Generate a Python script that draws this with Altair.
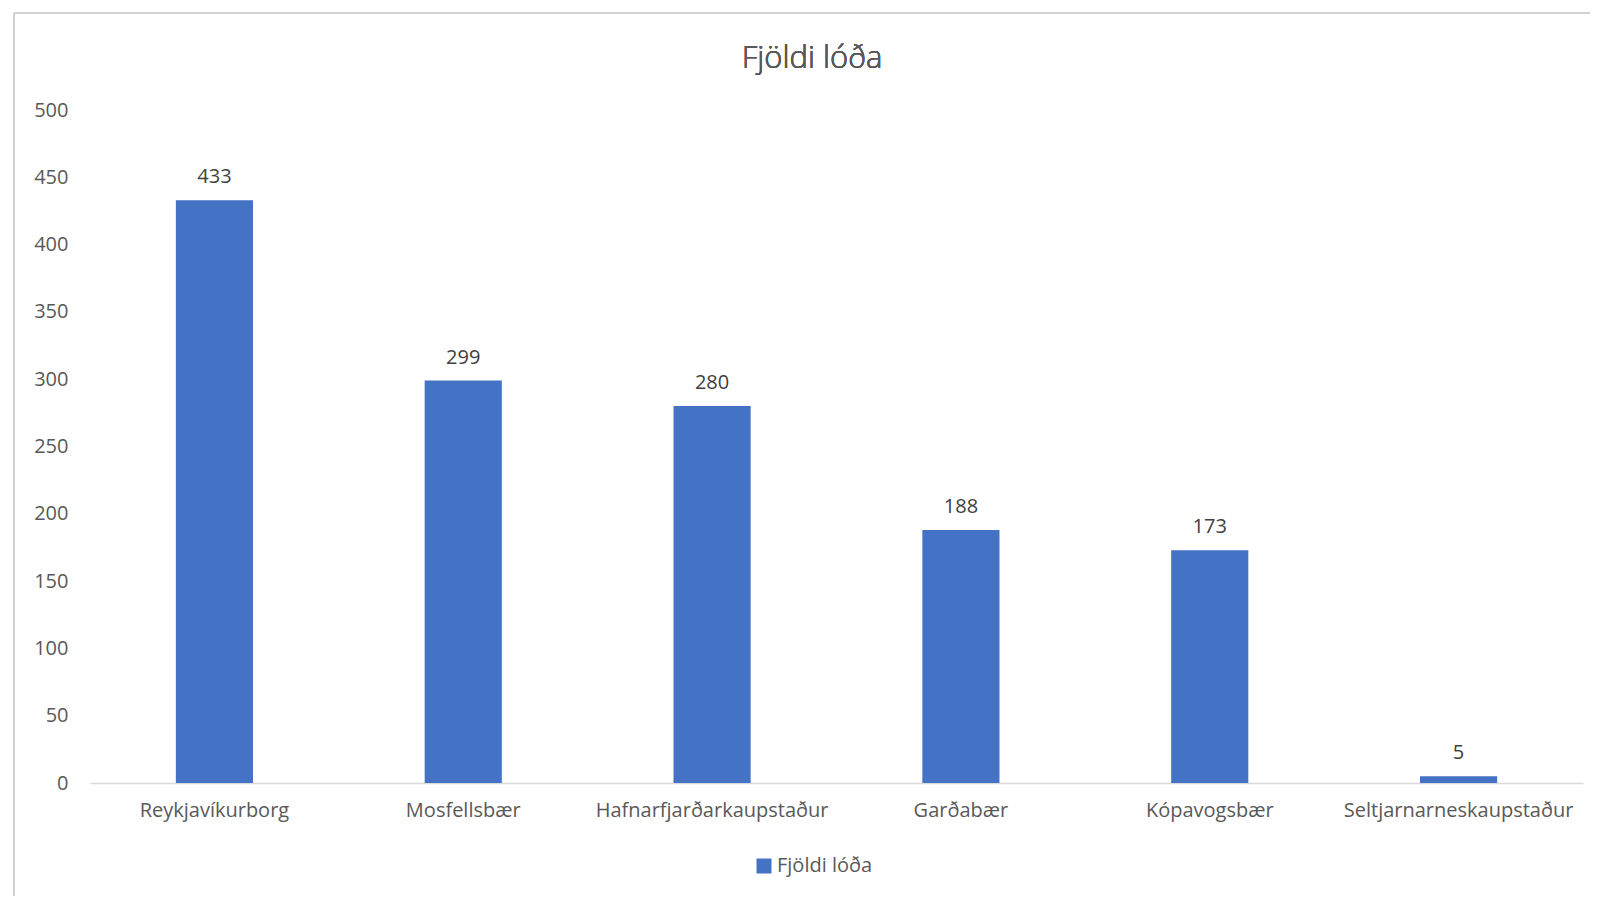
import altair as alt
import pandas as pd

categories = ["Reykjavíkurborg", "Mosfellsbær", "Hafnarfjarðarkaupstaður",
              "Garðabær", "Kópavogsbær", "Seltjarnarneskaupstaður"]
values = [433, 299, 280, 188, 173, 5]
series_name = "Fjöldi lóða"
chart_title = "Fjöldi lóða"
y_ticks = [0, 50, 100, 150, 200, 250, 300, 350, 400, 450, 500]

df = pd.DataFrame({"Sveitarfélag": categories, "Fjöldi": values,
                   "Röð": [series_name] * len(categories)})

FONT = "Open Sans"
GRAY = "#595959"
BLUE = "#4472C4"

base = alt.Chart(df)

bars = base.mark_bar(color=BLUE).encode(
    x=alt.X("Sveitarfélag:N", sort=categories,
            scale=alt.Scale(paddingInner=0.69, paddingOuter=0.345),
            axis=alt.Axis(title=None, labelAngle=0, ticks=False, domainColor="#D9D9D9",
                          domainWidth=1.5, labelPadding=17, labelFontSize=20, labelLimit=0,
                          labelColor=GRAY, labelFont=FONT)),
    y=alt.Y("Fjöldi:Q", scale=alt.Scale(domain=[0, 500], nice=False),
            axis=alt.Axis(title=None, values=y_ticks, grid=False, domain=False, ticks=False,
                          labelPadding=22, labelFontSize=20, labelColor=GRAY, labelFont=FONT)),
    fill=alt.Fill("Röð:N", scale=alt.Scale(range=[BLUE]),
                  legend=alt.Legend(title=None, orient="none", legendX=664, legendY=746,
                                    symbolType="square", symbolSize=225, labelFontSize=20,
                                    labelColor=GRAY, labelFont=FONT, symbolStrokeWidth=0,
                                    labelOffset=3)),
)

labels = base.mark_text(baseline="alphabetic", dy=-17, fontSize=20, color="#404040", font=FONT).encode(
    x=alt.X("Sveitarfélag:N", sort=categories),
    y="Fjöldi:Q",
    text="Fjöldi:Q",
)

title = base.mark_text(fontSize=31, font=FONT, color=GRAY, fontWeight=300,
                       baseline="alphabetic", align="center").encode(
    x=alt.value(722), y=alt.value(-42), text=alt.value(chart_title))

frame_left = base.mark_rule(color="#D0D0D0", strokeWidth=2).encode(
    x=alt.value(-76), y=alt.value(-97), y2=alt.value(790))
frame_top = base.mark_rule(color="#D0D0D0", strokeWidth=2).encode(
    x=alt.value(-76), x2=alt.value(1500), y=alt.value(-97))

chart = alt.layer(frame_left, frame_top, bars, labels, title).properties(
    width=1493, height=673,
    padding={"left": 82, "top": 102, "right": 7, "bottom": 113},
    autosize=alt.AutoSizeParams(type="none"),
).configure_view(stroke=None)

chart.save("out.html", embed_options={"renderer": "svg", "actions": False})
